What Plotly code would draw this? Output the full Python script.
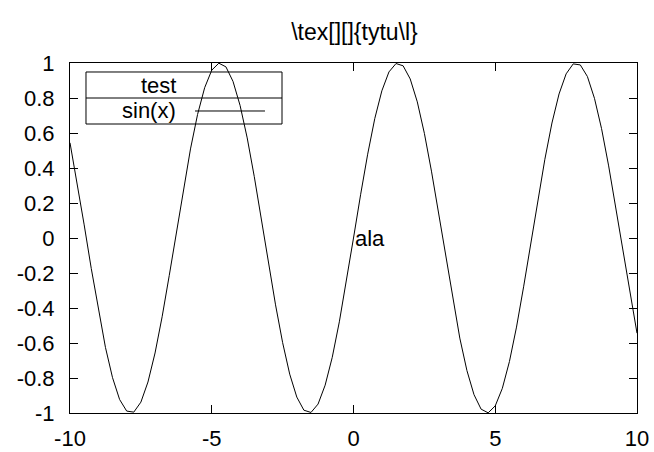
import plotly.graph_objects as go

x_vals = [-10, -9.75, -9.5, -9.25, -9, -8.75, -8.5, -8.25, -8, -7.75, -7.5, -7.25,
          -7, -6.75, -6.5, -6.25, -6, -5.75, -5.5, -5.25, -5, -4.75, -4.5, -4.25,
          -4, -3.75, -3.5, -3.25, -3, -2.75, -2.5, -2.25, -2, -1.75, -1.5, -1.25,
          -1, -0.75, -0.5, -0.25, 0, 0.25, 0.5, 0.75, 1, 1.25, 1.5, 1.75,
          2, 2.25, 2.5, 2.75, 3, 3.25, 3.5, 3.75, 4, 4.25, 4.5, 4.75,
          5, 5.25, 5.5, 5.75, 6, 6.25, 6.5, 6.75, 7, 7.25, 7.5, 7.75,
          8, 8.25, 8.5, 8.75, 9, 9.25, 9.5, 9.75, 10]
y_vals = [0.544, 0.320, 0.075, -0.174, -0.412, -0.625, -0.798, -0.923, -0.989, -0.995, -0.938, -0.823,
          -0.657, -0.450, -0.215, 0.033, 0.279, 0.509, 0.706, 0.859, 0.959, 0.999, 0.978, 0.895,
          0.757, 0.572, 0.351, 0.108, -0.141, -0.382, -0.598, -0.778, -0.909, -0.984, -0.997, -0.949,
          -0.841, -0.682, -0.479, -0.247, 0.0, 0.247, 0.479, 0.682, 0.841, 0.949, 0.997, 0.984,
          0.909, 0.778, 0.598, 0.382, 0.141, -0.108, -0.351, -0.572, -0.757, -0.895, -0.978, -0.999,
          -0.959, -0.859, -0.706, -0.509, -0.279, -0.033, 0.215, 0.450, 0.657, 0.823, 0.938, 0.995,
          0.989, 0.923, 0.798, 0.625, 0.412, 0.174, -0.075, -0.320, -0.544]

x_ticks = [-10, -5, 0, 5, 10]
x_tick_text = ["-10", "-5", "0", "5", "10"]
y_ticks = [-1, -0.8, -0.6, -0.4, -0.2, 0, 0.2, 0.4, 0.6, 0.8, 1]
y_tick_text = ["-1", "-0.8", "-0.6", "-0.4", "-0.2", "0", "0.2", "0.4", "0.6", "0.8", "1"]

title_text = "\\tex[][]{tytu\\l}"
label_text = "ala"
legend_title = "test"
series_name = "sin(x)"

FONT = "Liberation Sans, Arial, sans-serif"
FS = 22

fig = go.Figure()
fig.add_trace(go.Scatter(
    x=x_vals, y=y_vals, mode="lines",
    line=dict(color="black", width=1),
    name=series_name, showlegend=False,
))

axis_common = dict(
    showgrid=False, zeroline=False, automargin=False,
    showline=True, linecolor="black", linewidth=1, mirror="ticks",
    ticks="inside", ticklen=8, tickcolor="black", tickwidth=1,
    ticklabeloverflow="allow",
    tickfont=dict(family=FONT, size=FS, color="black"),
)

fig.update_xaxes(range=[-10, 10], tickvals=x_ticks, ticktext=x_tick_text,
                 ticklabelstandoff=6, **axis_common)
fig.update_yaxes(range=[-1, 1], tickvals=y_ticks, ticktext=y_tick_text,
                 ticklabelstandoff=10, **axis_common)

# gnuplot-style key box drawn by hand: title row + entry row
fig.add_shape(type="rect", xref="paper", yref="paper",
              x0=0.0282, x1=0.3739, y0=0.8257, y1=0.9743,
              line=dict(color="black", width=1), fillcolor="rgba(0,0,0,0)")
fig.add_shape(type="line", xref="paper", yref="paper",
              x0=0.0282, x1=0.3739, y0=0.9, y1=0.9,
              line=dict(color="black", width=1))
fig.add_shape(type="line", xref="paper", yref="paper",
              x0=0.2205, x1=0.3439, y0=0.8629, y1=0.8629,
              line=dict(color="black", width=1))

fig.add_annotation(text=legend_title, xref="paper", yref="paper",
                   x=0.156, y=0.937, showarrow=False, xanchor="center", yanchor="middle",
                   font=dict(family=FONT, size=FS, color="black"))
fig.add_annotation(text=series_name, xref="paper", yref="paper",
                   x=0.1905, y=0.863, showarrow=False, xanchor="right", yanchor="middle",
                   font=dict(family=FONT, size=FS, color="black"))

fig.add_annotation(text=label_text, x=0, y=0, showarrow=False,
                   xanchor="left", yanchor="middle", xshift=-1,
                   font=dict(family=FONT, size=FS, color="black"))

fig.update_layout(
    width=654, height=452,
    title=dict(text=title_text, x=0.542, xanchor="center", y=0.929, yanchor="middle",
               font=dict(family=FONT, size=23, color="black")),
    plot_bgcolor="white", paper_bgcolor="white",
    margin=dict(t=63, b=39, l=70, r=17),
    showlegend=False,
)

# drop the page's default body margin so the figure fills the window exactly
fig.write_html("out.html", config={"displayModeBar": False},
               post_script="document.body.style.margin='0';")
